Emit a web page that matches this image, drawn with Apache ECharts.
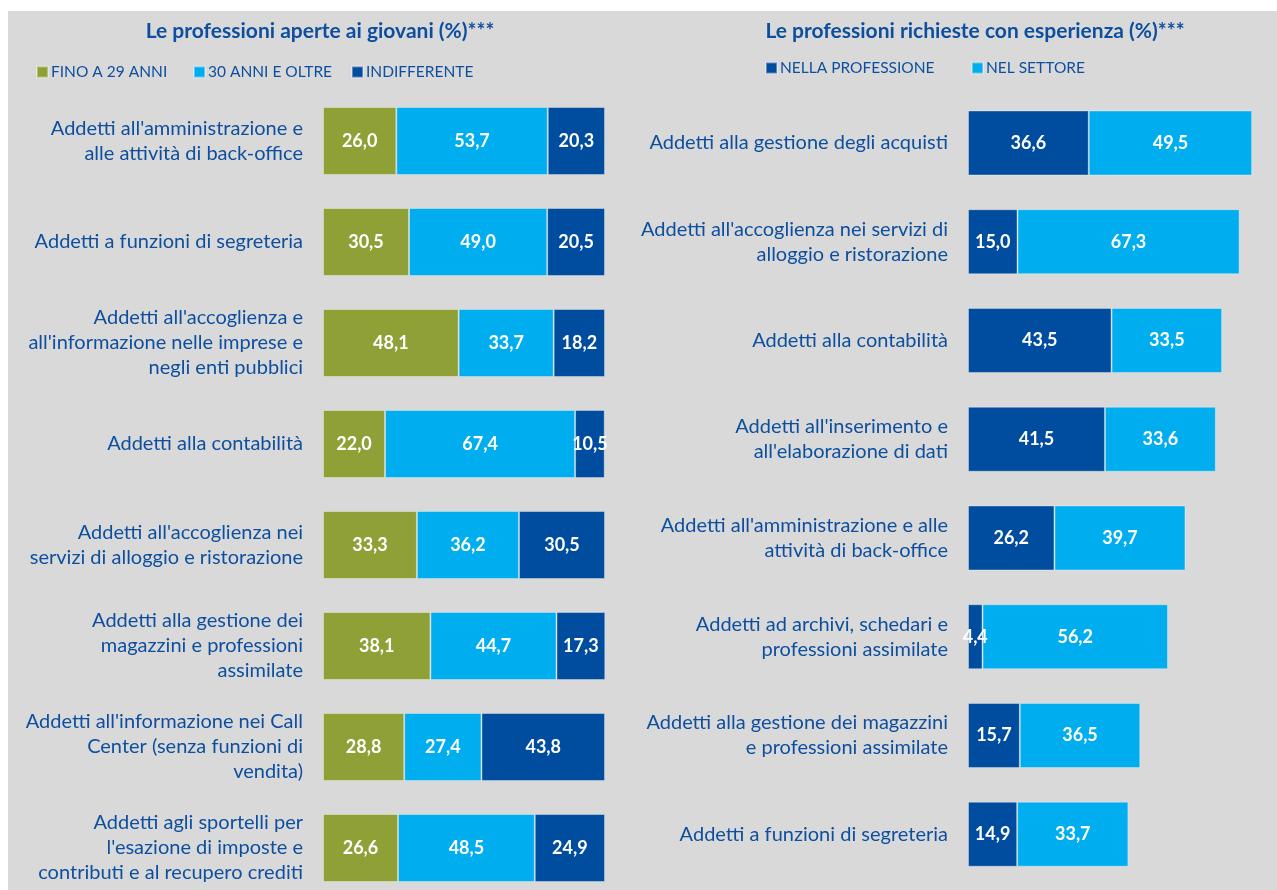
<!DOCTYPE html>
<html>
<head>
    <meta charset="UTF-8">
    <title>professioni</title>
    <script src="https://cdn.jsdelivr.net/npm/echarts@6/dist/echarts.min.js"></script>
    <style>
        html, body { margin: 0; padding: 0; background: #fff; overflow: hidden; }
        /* piu' grande della finestra: le griglie non vengono tagliate */
        #charts { width: 1320px; height: 920px; }
    </style>
</head>
<body>
<div id="charts"></div>
<script type="text/javascript">
    // pannello sinistro: professioni aperte ai giovani
    var catGiovani = [
        "Addetti all'amministrazione e\nalle attività di back-office",
        "Addetti a funzioni di segreteria",
        "Addetti all'accoglienza e\nall'informazione nelle imprese e\nnegli enti pubblici",
        "Addetti alla contabilità",
        "Addetti all'accoglienza nei\nservizi di alloggio e ristorazione",
        "Addetti alla gestione dei\nmagazzini e professioni\nassimilate",
        "Addetti all'informazione nei Call\nCenter (senza funzioni di\nvendita)",
        "Addetti agli sportelli per\nl'esazione di imposte e\ncontributi e al recupero crediti"
    ];
    var fino29 = [26.0, 30.5, 48.1, 22.0, 33.3, 38.1, 28.8, 26.6];
    var oltre30 = [53.7, 49.0, 33.7, 67.4, 36.2, 44.7, 27.4, 48.5];
    var indiff = [20.3, 20.5, 18.2, 10.5, 30.5, 17.3, 43.8, 24.9];

    // pannello destro: professioni richieste con esperienza
    var catEsperienza = [
        "Addetti alla gestione degli acquisti",
        "Addetti all'accoglienza nei servizi di\nalloggio e ristorazione",
        "Addetti alla contabilità",
        "Addetti all'inserimento e\nall'elaborazione di dati",
        "Addetti all'amministrazione e alle\nattività di back-office",
        "Addetti ad archivi, schedari e\nprofessioni assimilate",
        "Addetti alla gestione dei magazzini\ne professioni assimilate",
        "Addetti a funzioni di segreteria"
    ];
    var nellaProf = [36.6, 15.0, 43.5, 41.5, 26.2, 4.4, 15.7, 14.9];
    var nelSettore = [49.5, 67.3, 33.5, 33.6, 39.7, 56.2, 36.5, 33.7];

    var FONT = 'Lato, "Open Sans", sans-serif';
    var BLU_TESTO = '#0d4f9e';
    var VERDE = '#8fa036';
    var AZZURRO = '#00aeef';
    var BLU = '#004c9e';

    function fmt(p) {
        return p.value.toFixed(1).replace('.', ',');
    }

    var labelBar = {
        show: true,
        position: 'inside',
        color: '#fff',
        fontFamily: FONT,
        fontWeight: 'bold',
        fontSize: 18,
        formatter: fmt
    };

    function serie(name, data, x, y, w, color) {
        return {
            name: name,
            type: 'bar',
            stack: 's' + x,
            xAxisIndex: x,
            yAxisIndex: y,
            barWidth: w,
            data: data,
            itemStyle: { color: color, borderColor: 'rgba(255,255,255,0.35)', borderWidth: 1 },
            label: labelBar
        };
    }

    function legenda(name, left, top) {
        return {
            data: [name],
            left: left,
            top: top,
            icon: 'rect',
            itemWidth: 11,
            itemHeight: 11,
            itemGap: 0,
            padding: 0,
            textStyle: { color: BLU_TESTO, fontFamily: FONT, fontSize: 15.5, padding: [0, 0, 0, -2] },
            selectedMode: false
        };
    }

    function asseCat(data) {
        return {
            type: 'category',
            inverse: true,
            data: data,
            axisLine: { show: false },
            axisTick: { show: false },
            axisLabel: {
                margin: 20,
                color: BLU_TESTO,
                fontFamily: FONT,
                fontSize: 20,
                lineHeight: 25,
                align: 'right'
            }
        };
    }

    var chart = echarts.init(document.getElementById('charts'));
    var option = {
        backgroundColor: '#fff',
        animation: false,
        graphic: [{
            type: 'rect',
            z: -10,
            shape: { x: 8, y: 11, width: 1320, height: 920 },
            style: { fill: '#d9d9d9' }
        }],
        title: [
            {
                text: 'Le professioni aperte ai giovani (%)***',
                left: 315, top: 16, textAlign: 'center',
                textStyle: { color: BLU_TESTO, fontFamily: FONT, fontWeight: 'bold', fontSize: 21 }
            },
            {
                text: 'Le professioni richieste con esperienza (%)***',
                left: 970, top: 16, textAlign: 'center',
                textStyle: { color: BLU_TESTO, fontFamily: FONT, fontWeight: 'bold', fontSize: 21 }
            }
        ],
        legend: [
            legenda('FINO A 29 ANNI', 36, 64),
            legenda('30 ANNI E OLTRE', 193, 64),
            legenda('INDIFFERENTE', 351, 64),
            legenda('NELLA PROFESSIONE', 765, 60),
            legenda('NEL SETTORE', 971, 60)
        ],
        grid: [
            { left: 323, top: 90.5, width: 282, height: 808 },
            { left: 968, top: 93.6, width: 330, height: 790 }
        ],
        xAxis: [
            { type: 'value', gridIndex: 0, min: 0, max: 100, show: false },
            { type: 'value', gridIndex: 1, min: 0, max: 100, show: false }
        ],
        yAxis: [
            Object.assign({ gridIndex: 0 }, asseCat(catGiovani)),
            Object.assign({ gridIndex: 1 }, asseCat(catEsperienza))
        ],
        series: [
            serie('FINO A 29 ANNI', fino29, 0, 0, 68, VERDE),
            serie('30 ANNI E OLTRE', oltre30, 0, 0, 68, AZZURRO),
            serie('INDIFFERENTE', indiff, 0, 0, 68, BLU),
            serie('NELLA PROFESSIONE', nellaProf, 1, 1, 65, BLU),
            serie('NEL SETTORE', nelSettore, 1, 1, 65, AZZURRO)
        ]
    };
    chart.setOption(option);
</script>
</body>
</html>
